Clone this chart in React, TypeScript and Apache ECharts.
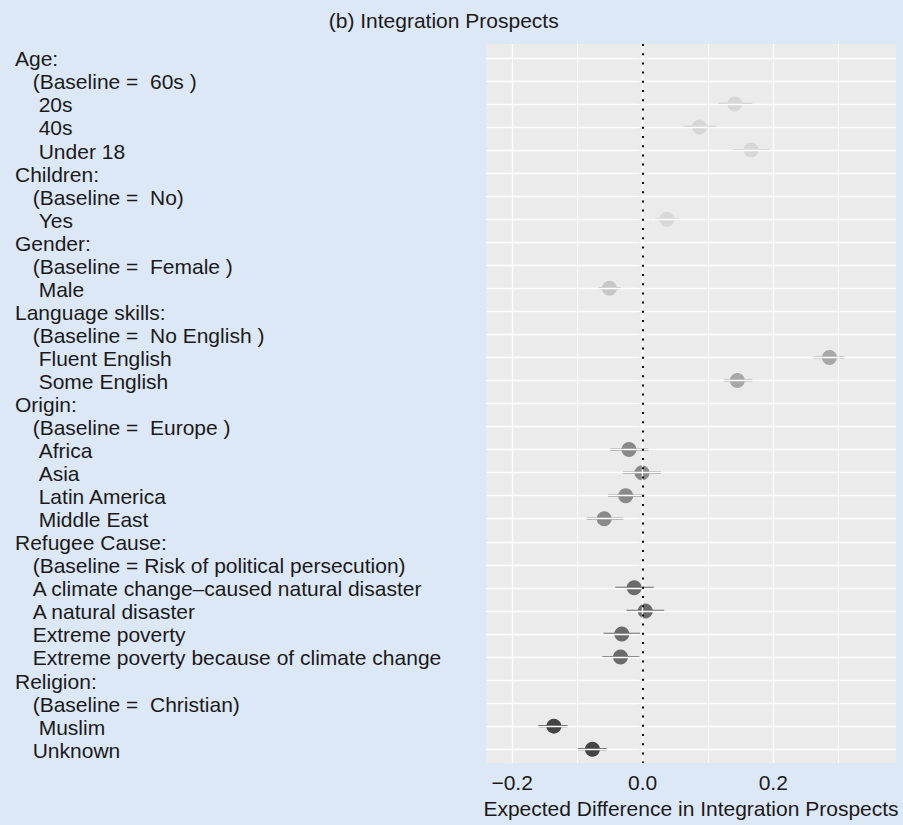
import React, { useEffect, useRef } from "react";
import * as echarts from "echarts";

// ---- data ----
const rowLabels = [
  "Age:",
  "(Baseline =  60s )",
  "20s",
  "40s",
  "Under 18",
  "Children:",
  "(Baseline =  No)",
  "Yes",
  "Gender:",
  "(Baseline =  Female )",
  "Male",
  "Language skills:",
  "(Baseline =  No English )",
  "Fluent English",
  "Some English",
  "Origin:",
  "(Baseline =  Europe )",
  "Africa",
  "Asia",
  "Latin America",
  "Middle East",
  "Refugee Cause:",
  "(Baseline = Risk of political persecution)",
  "A climate change\u2013caused natural disaster",
  "A natural disaster",
  "Extreme poverty",
  "Extreme poverty because of climate change",
  "Religion:",
  "(Baseline =  Christian)",
  "Muslim",
  "Unknown",
];
// label indent style: h = header, b = baseline / shallow item, i = deeper item
const rowIndent = [
  "h", "b", "i", "i", "i",
  "h", "b", "i",
  "h", "b", "i",
  "h", "b", "i", "i",
  "h", "b", "i", "i", "i", "i",
  "h", "b", "b", "b", "b", "b",
  "h", "b", "i", "b",
];

const pointLabels = [
  "20s", "40s", "Under 18", "Yes", "Male", "Fluent English", "Some English",
  "Africa", "Asia", "Latin America", "Middle East",
  "A climate change\u2013caused natural disaster", "A natural disaster",
  "Extreme poverty", "Extreme poverty because of climate change",
  "Muslim", "Unknown",
];
const pointGroups = [
  "Age", "Age", "Age", "Children", "Gender", "Language", "Language",
  "Origin", "Origin", "Origin", "Origin",
  "Refugee", "Refugee", "Refugee", "Refugee",
  "Religion", "Religion",
];
const estimates = [
  0.141, 0.087, 0.166, 0.037, -0.051, 0.286, 0.145,
  -0.021, -0.001, -0.026, -0.059,
  -0.013, 0.004, -0.032, -0.034,
  -0.136, -0.077,
];
const lower = [
  0.116, 0.062, 0.139, 0.019, -0.068, 0.263, 0.124,
  -0.050, -0.030, -0.053, -0.086,
  -0.042, -0.025, -0.060, -0.062,
  -0.160, -0.099,
];
const upper = [
  0.168, 0.113, 0.194, 0.056, -0.034, 0.309, 0.168,
  0.009, 0.028, 0.003, -0.030,
  0.017, 0.033, -0.004, -0.005,
  -0.115, -0.055,
];

const xTickValues = [-0.2, 0, 0.2];
const xMajorGrid = [-0.2, 0, 0.2];
const xMinorGrid = [-0.1, 0.1, 0.3];

const groupPointColor: Record<string, string> = {
  Age: "#d7d7d7",
  Children: "#d8d8d8",
  Gender: "#c7c7c7",
  Language: "#a8a8a8",
  Origin: "#8a8a8a",
  Refugee: "#6b6b6b",
  Religion: "#444444",
};
const groupBarColor: Record<string, string> = {
  Age: "#c9c9c9",
  Children: "#cbcbcb",
  Gender: "#bababa",
  Language: "#9f9f9f",
  Origin: "#888888",
  Refugee: "#696969",
  Religion: "#444444",
};

const FONT = "Liberation Sans, Arial, Helvetica, sans-serif";
const TEXT = "#1a1a1a";

export default function App() {
  const ref = useRef<HTMLDivElement>(null);

  useEffect(() => {
    if (!ref.current) return;
    const chart = echarts.init(ref.current, undefined, { renderer: "svg" });
    const rowIdx = rowLabels.map((_, i) => i);
    const pointRow = pointLabels.map((l) => rowLabels.indexOf(l));

    const option: any = {
      animation: false,
      backgroundColor: "#dde8f6",
      textStyle: { fontFamily: FONT },
      graphic: [
        {
          type: "text",
          x: 443.7,
          y: 20,
          style: {
            text: "(b) Integration Prospects",
            fill: TEXT,
            font: `21px ${FONT}`,
            align: "center",
            verticalAlign: "middle",
          },
        },
      ],
      grid: {
        left: 486,
        right: 7,
        top: 44,
        bottom: 62,
        show: true,
        backgroundColor: "#ebebeb",
        borderWidth: 0,
      },
      xAxis: {
        type: "value",
        min: -0.24,
        max: 0.388,
        axisLine: { show: false },
        splitLine: { show: false },
        axisTick: {
          show: true,
          customValues: xTickValues,
          length: 5,
          lineStyle: { color: "#8f8f8f", width: 1.2 },
        },
        axisLabel: {
          customValues: xTickValues,
          color: TEXT,
          fontSize: 21,
          fontFamily: FONT,
          margin: 9,
          formatter: (v: number) =>
            v < 0 ? "\u2212" + Math.abs(v).toFixed(1) : v.toFixed(1),
        },
        name: "Expected Difference in Integration Prospects",
        nameLocation: "middle",
        nameGap: 34,
        nameTextStyle: { color: TEXT, fontSize: 21, fontFamily: FONT },
      },
      yAxis: {
        type: "value",
        inverse: true,
        min: -0.6,
        max: 30.6,
        axisLine: { show: false },
        splitLine: { show: false },
        axisTick: {
          show: true,
          customValues: rowIdx,
          length: 5,
          lineStyle: { color: "#8f8f8f", width: 1.2 },
        },
        axisLabel: {
          customValues: rowIdx,
          align: "left",
          margin: 471,
          color: TEXT,
          fontSize: 21,
          fontFamily: FONT,
          formatter: (v: number) => {
            const i = Math.round(v);
            return `{${rowIndent[i]}|${rowLabels[i]}}`;
          },
          rich: {
            h: { fontSize: 21, fontFamily: FONT, color: TEXT, padding: [2, 0, 0, 0] },
            b: { fontSize: 21, fontFamily: FONT, color: TEXT, padding: [2, 0, 0, 17.7] },
            i: { fontSize: 21, fontFamily: FONT, color: TEXT, padding: [2, 0, 0, 23.7] },
          },
        },
      },
      series: [
        {
          type: "line",
          data: [],
          silent: true,
          z: 1,
          markLine: {
            silent: true,
            symbol: ["none", "none"],
            label: { show: false },
            emphasis: { disabled: true },
            data: [
              ...rowIdx.map((r) => ({
                yAxis: r,
                lineStyle: { color: "#ffffff", width: 1.3, type: "solid" },
              })),
              ...xMajorGrid.map((x) => ({
                xAxis: x,
                lineStyle: { color: "#ffffff", width: 1.3, type: "solid" },
              })),
              ...xMinorGrid.map((x) => ({
                xAxis: x,
                lineStyle: { color: "#ffffff", width: 0.7, type: "solid" },
              })),
            ],
          },
        },
        {
          type: "line",
          data: [],
          silent: true,
          z: 2,
          markLine: {
            silent: true,
            symbol: ["none", "none"],
            label: { show: false },
            emphasis: { disabled: true },
            data: [
              {
                xAxis: 0,
                lineStyle: { color: "#000000", width: 2, type: [2, 7.2] },
              },
            ],
          },
        },
        {
          type: "custom",
          z: 3,
          silent: true,
          data: pointLabels.map((_, k) => [lower[k], upper[k], pointRow[k]]),
          encode: { x: [0, 1], y: 2 },
          renderItem: (params: any, api: any) => {
            const p1 = api.coord([api.value(0), api.value(2)]);
            const p2 = api.coord([api.value(1), api.value(2)]);
            return {
              type: "line",
              shape: { x1: p1[0], y1: p1[1], x2: p2[0], y2: p2[1] },
              style: {
                stroke: groupBarColor[pointGroups[params.dataIndex]],
                lineWidth: 2.2,
              },
            };
          },
        },
        {
          type: "scatter",
          z: 4,
          silent: true,
          symbol: "circle",
          symbolSize: 15,
          data: pointLabels.map((_, k) => ({
            value: [estimates[k], pointRow[k]],
            itemStyle: { color: groupPointColor[pointGroups[k]], opacity: 1 },
          })),
        },
      ],
    };
    chart.setOption(option);
    return () => chart.dispose();
  }, []);

  return (
    <div
      ref={ref}
      style={{ position: "fixed", left: 0, top: 0, width: 903, height: 825 }}
    />
  );
}
